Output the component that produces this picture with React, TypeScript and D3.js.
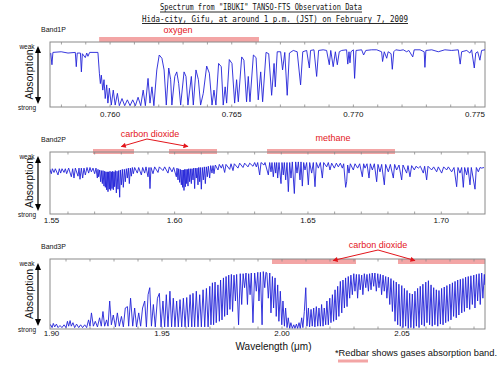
import React from "react";
import * as d3 from "d3";

const W = 500;
const H = 369;

// ---------- data (wavelength in µm, relative signal: 1 = weak absorption, 0 = strong) ----------
const band1Domain: [number, number] = [0.75753, 0.77541];
const band1Labels = [0.76, 0.765, 0.77, 0.775];
const band1Points: [number, number][] = [
  [0.75756,0.83],[0.75761,0.65],[0.75765,0.84],[0.75799,0.85],[0.75827,0.83],[0.75857,0.84],[0.75861,0.62],[0.75865,0.83],
  [0.75878,0.83],[0.75882,0.54],[0.75886,0.82],[0.75898,0.76],[0.75904,0.83],[0.75909,0.78],[0.75916,0.84],[0.7595,0.84],
  [0.75956,0.52],[0.7596,0.36],[0.75964,0.49],[0.7597,0.26],[0.75975,0.42],[0.7598,0.13],[0.75986,0.34],[0.75991,0.06],
  [0.75997,0.29],[0.76005,0.03],[0.76013,0.26],[0.76021,0.03],[0.7603,0.21],[0.76038,0.02],[0.76049,0.13],[0.7606,0.02],
  [0.76071,0.11],[0.76082,0.02],[0.76093,0.11],[0.76104,0.02],[0.76115,0.15],[0.76126,0.02],[0.76136,0.26],[0.76145,0.02],
  [0.76156,0.44],[0.76164,0.06],[0.76172,0.31],[0.7618,0.02],[0.76192,0.57],[0.76202,0.8],[0.76213,0.75],[0.76222,0.57],
  [0.76231,0.03],[0.76241,0.6],[0.76249,0.42],[0.76254,0.03],[0.76266,0.47],[0.76274,0.54],[0.76282,0.36],[0.7629,0.03],
  [0.76304,0.54],[0.76312,0.47],[0.7632,0.03],[0.76334,0.47],[0.76342,0.03],[0.76353,0.57],[0.76363,0.42],[0.76372,0.03],
  [0.76383,0.21],[0.76397,0.63],[0.76408,0.52],[0.76419,0.03],[0.76427,0.26],[0.76435,0.03],[0.76446,0.67],[0.76457,0.62],
  [0.76465,0.03],[0.76473,0.31],[0.76479,0.06],[0.7649,0.73],[0.76501,0.67],[0.76512,0.06],[0.7652,0.42],[0.76527,0.08],
  [0.76541,0.77],[0.7655,0.72],[0.76561,0.08],[0.76568,0.47],[0.76575,0.08],[0.76589,0.8],[0.766,0.76],[0.76609,0.11],
  [0.76619,0.54],[0.76627,0.08],[0.76641,0.84],[0.76652,0.82],[0.76664,0.18],[0.76674,0.67],[0.76679,0.31],[0.76687,0.85],
  [0.76701,0.85],[0.76709,0.57],[0.76718,0.84],[0.76728,0.18],[0.76737,0.83],[0.76753,0.87],[0.76769,0.85],[0.76783,0.34],
  [0.76792,0.85],[0.76808,0.87],[0.76819,0.6],[0.76824,0.87],[0.76838,0.88],[0.76849,0.47],[0.76857,0.87],[0.76876,0.88],
  [0.7689,0.87],[0.76901,0.65],[0.76907,0.87],[0.76917,0.62],[0.76926,0.85],[0.76934,0.65],[0.76942,0.85],[0.76952,0.87],
  [0.76972,0.88],[0.76977,0.66],[0.76982,0.85],[0.76986,0.68],[0.7699,0.85],[0.77,0.88],[0.77005,0.44],[0.77011,0.87],
  [0.77034,0.88],[0.77042,0.8],[0.77051,0.87],[0.77075,0.88],[0.77096,0.88],[0.77116,0.85],[0.7712,0.7],[0.77127,0.85],
  [0.77137,0.75],[0.77143,0.85],[0.77155,0.82],[0.7716,0.58],[0.77166,0.85],[0.77174,0.88],[0.77192,0.87],[0.77205,0.88],
  [0.77219,0.85],[0.77228,0.87],[0.77244,0.77],[0.7725,0.88],[0.77274,0.88],[0.77291,0.85],[0.77294,0.61],[0.77298,0.87],
  [0.77322,0.88],[0.77349,0.85],[0.77376,0.88],[0.77404,0.87],[0.77431,0.88],[0.77439,0.66],[0.77445,0.85],[0.77466,0.87],
  [0.77479,0.83],[0.77486,0.88],[0.77497,0.6],[0.77503,0.83],[0.77511,0.85],[0.7752,0.72],[0.77527,0.87],[0.77541,0.88],
];

const band2Domain: [number, number] = [1.55326, 1.71639];
const band2Labels = [1.55, 1.6, 1.65, 1.7];
const band2Points: [number, number][] = [
  [1.55313,0.73],[1.55376,0.65],[1.55414,0.73],[1.55476,0.67],[1.55526,0.73],[1.55626,0.63],[1.55676,0.73],[1.55726,0.66],
  [1.55776,0.73],[1.55851,0.67],[1.55901,0.73],[1.55951,0.65],[1.56026,0.74],[1.56126,0.6],[1.56176,0.73],[1.56226,0.58],
  [1.56276,0.74],[1.56376,0.61],[1.56414,0.74],[1.56451,0.56],[1.56501,0.74],[1.56551,0.58],[1.56601,0.74],[1.56651,0.63],
  [1.56714,0.75],[1.56776,0.66],[1.56826,0.75],[1.56876,0.68],[1.56939,0.74],[1.57001,0.65],[1.57051,0.74],[1.57101,0.58],
  [1.57126,0.72],[1.57151,0.6],[1.57189,0.71],[1.57226,0.52],[1.57251,0.7],[1.57289,0.49],[1.57314,0.7],[1.57351,0.45],
  [1.57376,0.69],[1.57401,0.43],[1.57426,0.68],[1.57451,0.39],[1.57476,0.68],[1.57501,0.36],[1.57526,0.68],[1.57551,0.4],
  [1.57576,0.69],[1.57601,0.38],[1.57626,0.68],[1.57651,0.41],[1.57676,0.69],[1.57701,0.39],[1.57726,0.68],[1.57751,0.44],
  [1.57776,0.7],[1.57814,0.34],[1.57839,0.69],[1.57876,0.4],[1.57901,0.7],[1.57939,0.27],[1.57964,0.71],[1.58001,0.47],
  [1.58039,0.72],[1.58076,0.43],[1.58114,0.72],[1.58151,0.52],[1.58189,0.73],[1.58226,0.58],[1.58264,0.74],[1.58301,0.49],
  [1.58339,0.74],[1.58376,0.61],[1.58414,0.75],[1.58451,0.65],[1.58501,0.75],[1.58601,0.66],[1.58651,0.75],[1.58751,0.63],
  [1.58801,0.75],[1.58876,0.66],[1.58926,0.76],[1.59001,0.6],[1.59039,0.75],[1.59076,0.41],[1.59114,0.75],[1.59189,0.65],
  [1.59251,0.76],[1.59376,0.67],[1.59426,0.76],[1.59564,0.7],[1.59626,0.76],[1.59751,0.66],[1.59801,0.76],[1.59901,0.68],
  [1.59964,0.75],[1.60064,0.6],[1.60089,0.74],[1.60126,0.55],[1.60151,0.73],[1.60189,0.51],[1.60214,0.72],[1.60251,0.47],
  [1.60276,0.71],[1.60301,0.43],[1.60326,0.71],[1.60351,0.38],[1.60376,0.72],[1.60401,0.44],[1.60426,0.72],[1.60451,0.49],
  [1.60476,0.72],[1.60501,0.45],[1.60526,0.73],[1.60564,0.52],[1.60589,0.73],[1.60626,0.49],[1.60651,0.73],[1.60689,0.55],
  [1.60714,0.74],[1.60751,0.41],[1.60776,0.74],[1.60814,0.58],[1.60839,0.74],[1.60876,0.47],[1.60901,0.75],[1.60939,0.52],
  [1.60964,0.75],[1.61001,0.4],[1.61039,0.75],[1.61076,0.55],[1.61114,0.76],[1.61151,0.49],[1.61189,0.76],[1.61226,0.6],
  [1.61264,0.77],[1.61314,0.58],[1.61351,0.78],[1.61401,0.66],[1.61439,0.78],[1.61476,0.65],[1.61526,0.79],[1.61626,0.71],
  [1.61676,0.8],[1.61751,0.74],[1.61801,0.8],[1.61876,0.67],[1.61926,0.8],[1.62064,0.72],[1.62114,0.81],[1.62189,0.7],
  [1.62239,0.81],[1.62376,0.74],[1.62439,0.82],[1.62564,0.75],[1.62626,0.82],[1.62751,0.76],[1.62814,0.82],[1.62939,0.77],
  [1.63001,0.83],[1.63064,0.76],[1.63114,0.83],[1.63189,0.63],[1.63239,0.83],[1.63351,0.79],[1.63389,0.83],[1.63514,0.63],
  [1.63564,0.83],[1.63614,0.68],[1.63651,0.83],[1.63701,0.6],[1.63751,0.83],[1.63789,0.66],[1.63826,0.83],[1.63864,0.58],
  [1.63914,0.83],[1.63989,0.49],[1.64026,0.83],[1.64076,0.63],[1.64114,0.83],[1.64164,0.55],[1.64214,0.83],[1.64264,0.36],
  [1.64314,0.83],[1.64364,0.58],[1.64414,0.84],[1.64489,0.33],[1.64539,0.84],[1.64589,0.66],[1.64639,0.84],[1.64701,0.55],
  [1.64739,0.84],[1.64789,0.45],[1.64839,0.83],[1.64889,0.71],[1.64951,0.83],[1.65014,0.47],[1.65064,0.83],[1.65139,0.66],
  [1.65201,0.83],[1.65264,0.44],[1.65314,0.83],[1.65389,0.74],[1.65464,0.83],[1.65539,0.58],[1.65589,0.83],[1.65701,0.76],
  [1.65764,0.83],[1.65826,0.71],[1.65889,0.82],[1.65989,0.74],[1.66064,0.82],[1.66139,0.76],[1.66214,0.82],[1.66289,0.74],
  [1.66339,0.81],[1.66389,0.55],[1.66414,0.43],[1.66451,0.52],[1.66489,0.79],[1.66539,0.66],[1.66589,0.81],[1.66701,0.71],
  [1.66764,0.81],[1.66864,0.74],[1.66939,0.81],[1.67039,0.6],[1.67089,0.81],[1.67139,0.74],[1.67214,0.81],[1.67289,0.58],
  [1.67339,0.81],[1.67414,0.71],[1.67489,0.81],[1.67576,0.52],[1.67626,0.8],[1.67701,0.68],[1.67764,0.8],[1.67864,0.47],
  [1.67914,0.8],[1.68014,0.68],[1.68089,0.8],[1.68201,0.58],[1.68251,0.8],[1.68326,0.71],[1.68414,0.79],[1.68514,0.55],
  [1.68564,0.79],[1.68701,0.66],[1.68751,0.78],[1.68826,0.6],[1.68889,0.78],[1.68989,0.71],[1.69051,0.77],[1.69139,0.74],
  [1.69214,0.77],[1.69326,0.66],[1.69376,0.77],[1.69451,0.55],[1.69501,0.77],[1.69639,0.71],[1.69714,0.76],[1.69826,0.68],
  [1.69889,0.76],[1.70014,0.66],[1.70089,0.76],[1.70201,0.71],[1.70264,0.76],[1.70389,0.68],[1.70476,0.75],[1.70576,0.44],
  [1.70626,0.75],[1.70701,0.66],[1.70764,0.75],[1.70826,0.43],[1.70876,0.75],[1.70951,0.63],[1.71001,0.75],[1.71076,0.47],
  [1.71126,0.75],[1.71264,0.4],[1.71314,0.75],[1.71389,0.68],[1.71451,0.75],[1.71514,0.74],[1.71601,0.75],
];

const band3Domain: [number, number] = [1.90333, 2.08458];
const band3Labels = [1.9, 1.95, 2.0, 2.05];
const band3Points: [number, number][] = [
  [1.9028,0.04],[1.9036,0.06],[1.9042,0.02],[1.9047,0.08],[1.9053,0.03],[1.906,0.07],[1.9067,0.02],[1.9075,0.05],
  [1.9083,0.02],[1.9092,0.06],[1.91,0.02],[1.9106,0.11],[1.9111,0.04],[1.9117,0.12],[1.9122,0.04],[1.9129,0.09],
  [1.9136,0.02],[1.9144,0.07],[1.9153,0.02],[1.9161,0.06],[1.9169,0.02],[1.9178,0.06],[1.9186,0.02],[1.9194,0.13],
  [1.92,0.04],[1.9206,0.23],[1.9214,0.04],[1.9222,0.11],[1.9231,0.03],[1.924,0.16],[1.9247,0.04],[1.9254,0.25],
  [1.9261,0.04],[1.9269,0.13],[1.9275,0.04],[1.9282,0.4],[1.9289,0.06],[1.9297,0.2],[1.9306,0.03],[1.9314,0.23],
  [1.9322,0.04],[1.9331,0.18],[1.9339,0.03],[1.9347,0.3],[1.9356,0.32],[1.9361,0.04],[1.9369,0.44],[1.9378,0.04],
  [1.9386,0.3],[1.9394,0.03],[1.9403,0.23],[1.9411,0.04],[1.9419,0.3],[1.9428,0.4],[1.9435,0.03],[1.9442,0.49],
  [1.9449,0.59],[1.9456,0.04],[1.9464,0.35],[1.9472,0.03],[1.9481,0.44],[1.9489,0.51],[1.9496,0.03],[1.9504,0.4],
  [1.9511,0.03],[1.9518,0.49],[1.9525,0.03],[1.9533,0.54],[1.954,0.03],[1.9547,0.44],[1.9554,0.03],[1.9561,0.4],
  [1.9568,0.03],[1.9575,0.42],[1.9582,0.03],[1.9589,0.44],[1.9596,0.03],[1.9603,0.45],[1.961,0.03],[1.9617,0.49],
  [1.9624,0.03],[1.9629,0.51],[1.9636,0.03],[1.9643,0.54],[1.965,0.03],[1.9657,0.49],[1.9664,0.03],[1.9671,0.56],
  [1.9678,0.03],[1.9685,0.58],[1.9692,0.03],[1.9699,0.61],[1.9704,0.06],[1.971,0.66],[1.9715,0.06],[1.9721,0.67],
  [1.9726,0.09],[1.9733,0.63],[1.9739,0.11],[1.9744,0.7],[1.975,0.13],[1.9756,0.73],[1.9761,0.18],[1.9767,0.75],
  [1.9772,0.2],[1.9778,0.77],[1.9783,0.28],[1.9789,0.78],[1.9794,0.25],[1.98,0.77],[1.9806,0.4],[1.9811,0.78],
  [1.9819,0.06],[1.9826,0.79],[1.9832,0.35],[1.9838,0.79],[1.9844,0.59],[1.985,0.8],[1.9856,0.35],[1.9861,0.79],
  [1.9867,0.49],[1.9872,0.8],[1.9879,0.09],[1.9886,0.8],[1.9893,0.54],[1.9899,0.81],[1.9904,0.4],[1.991,0.81],
  [1.9917,0.06],[1.9922,0.82],[1.9928,0.59],[1.9933,0.81],[1.9937,0.8],[1.9943,0.44],[1.9949,0.8],[1.9954,0.23],
  [1.996,0.75],[1.9965,0.3],[1.9971,0.73],[1.9976,0.18],[1.9982,0.63],[1.9987,0.11],[1.9993,0.54],[1.9999,0.06],
  [2.0004,0.4],[2.001,0.04],[2.0015,0.3],[2.0021,0.02],[2.0026,0.16],[2.0032,0.01],[2.0037,0.09],[2.0043,0.01],
  [2.0049,0.06],[2.0054,0.01],[2.006,0.07],[2.0065,0.01],[2.0071,0.09],[2.0076,0.01],[2.0082,0.16],[2.0087,0.02],
  [2.0093,0.25],[2.0099,0.59],[2.0104,0.04],[2.011,0.3],[2.0115,0.03],[2.0121,0.28],[2.0126,0.04],[2.0132,0.3],
  [2.0137,0.03],[2.0143,0.32],[2.0149,0.04],[2.0154,0.3],[2.016,0.04],[2.0165,0.35],[2.0171,0.04],[2.0176,0.3],
  [2.0182,0.06],[2.0187,0.4],[2.0193,0.06],[2.0199,0.44],[2.0204,0.09],[2.021,0.49],[2.0215,0.11],[2.0221,0.56],
  [2.0226,0.13],[2.0232,0.61],[2.0237,0.18],[2.0243,0.68],[2.0249,0.23],[2.0254,0.7],[2.026,0.3],[2.0265,0.73],
  [2.0271,0.32],[2.0276,0.75],[2.0282,0.44],[2.0287,0.77],[2.0293,0.49],[2.0299,0.79],[2.0304,0.54],[2.031,0.78],
  [2.0315,0.44],[2.0321,0.78],[2.0326,0.56],[2.0332,0.77],[2.0337,0.49],[2.0343,0.79],[2.0349,0.59],[2.0354,0.78],
  [2.036,0.54],[2.0365,0.79],[2.0371,0.56],[2.0376,0.8],[2.0382,0.61],[2.0387,0.8],[2.0393,0.54],[2.0399,0.79],
  [2.0404,0.59],[2.041,0.78],[2.0415,0.49],[2.0421,0.77],[2.0426,0.54],[2.0432,0.75],[2.0437,0.44],[2.0443,0.74],
  [2.0449,0.35],[2.0454,0.72],[2.046,0.25],[2.0465,0.69],[2.0471,0.11],[2.0476,0.67],[2.0482,0.06],[2.0487,0.64],
  [2.0493,0.04],[2.0499,0.62],[2.0504,0.02],[2.051,0.58],[2.0515,0.04],[2.0521,0.55],[2.0526,0.01],[2.0532,0.51],
  [2.0537,0.02],[2.0543,0.5],[2.0549,0.01],[2.0554,0.54],[2.056,0.04],[2.0565,0.58],[2.0571,0.02],[2.0576,0.61],
  [2.0582,0.06],[2.0587,0.64],[2.0593,0.04],[2.0599,0.67],[2.0604,0.09],[2.061,0.69],[2.0615,0.06],[2.0621,0.63],
  [2.0626,0.04],[2.0632,0.59],[2.0637,0.06],[2.0643,0.56],[2.0649,0.04],[2.0654,0.55],[2.066,0.07],[2.0665,0.58],
  [2.0671,0.06],[2.0676,0.6],[2.0682,0.09],[2.0687,0.62],[2.0693,0.11],[2.0699,0.64],[2.0704,0.13],[2.071,0.66],
  [2.0715,0.18],[2.0721,0.68],[2.0726,0.16],[2.0732,0.7],[2.0737,0.2],[2.0743,0.71],[2.0749,0.23],[2.0754,0.72],
  [2.076,0.25],[2.0765,0.74],[2.0771,0.3],[2.0776,0.75],[2.0782,0.28],[2.0787,0.76],[2.0793,0.35],[2.0799,0.77],
  [2.0804,0.3],[2.081,0.78],[2.0815,0.4],[2.0821,0.79],[2.0826,0.35],[2.0832,0.8],[2.0837,0.44],[2.0843,0.78],
  [2.0845,0.63],
];

// gas absorption bands (wavelength ranges of the red bars)
const band1Bars: [number, number][] = [[0.75955, 0.76612]];
const band2Bars: [number, number][] = [[1.56939, 1.58476], [1.59789, 1.61589], [1.63464, 1.68264]];
const band3Bars: [number, number][] = [[1.99583, 2.03083], [2.04833, 2.0846]];

// gas labels: text, wavelength centre
const band1Gases = [{ text: "oxygen", wl: 0.76279 }];
const band2Gases = [{ text: "carbon dioxide", wl: 1.59076 }, { text: "methane", wl: 1.65939 }];
const band3Gases = [{ text: "carbon dioxide", wl: 2.04 }];

// arrows from a gas label to its bars: [from wl, to wl]
const band2Arrows: [number, number][] = [[1.58964, 1.58], [1.58964, 1.60501]];
const band3Arrows: [number, number][] = [[2.04, 2.0213], [2.04, 2.0554]];

const titleLines = [
  'Spectrum from "IBUKI" TANSO-FTS Observation Data',
  "Hida-city, Gifu, at around 1 p.m. (JST) on February 7, 2009",
];

// ---------- layout ----------
const LEFT = 50;
const RIGHT = 485;
const RED = "#e3151b";
const PINK = "#f3a5a5";
const BLUE = "#2121d8";
const FONT = "'Liberation Sans', Arial, sans-serif";

type PanelCfg = {
  name: string;
  top: number;
  bottom: number;
  domain: [number, number];
  labels: number[];
  fmt: string;
  minorCount: number;
  points: [number, number][];
  bars: [number, number][];
  barTop: number;
  gases: { text: string; wl: number }[];
  gasDy: number[];
  arrows: [number, number][];
  arrowFromDy: number;
  arrowToDy: number;
  labelDy: number;
};

const panels: PanelCfg[] = [
  {
    name: "Band1P", top: 42, bottom: 107, domain: band1Domain, labels: band1Labels, fmt: ".3f",
    minorCount: 18, points: band1Points, bars: band1Bars, barTop: -5, gases: band1Gases, gasDy: [-9],
    arrows: [], arrowFromDy: 0, arrowToDy: 0, labelDy: 9.5,
  },
  {
    name: "Band2P", top: 152, bottom: 214, domain: band2Domain, labels: band2Labels, fmt: ".2f",
    minorCount: 16, points: band2Points, bars: band2Bars, barTop: -3, gases: band2Gases, gasDy: [-15, -11],
    arrows: band2Arrows, arrowFromDy: -13, arrowToDy: -5.5, labelDy: 8.5,
  },
  {
    name: "Band3P", top: 259, bottom: 329, domain: band3Domain, labels: band3Labels, fmt: ".2f",
    minorCount: 18, points: band3Points, bars: band3Bars, barTop: 0, gases: band3Gases, gasDy: [-11],
    arrows: band3Arrows, arrowFromDy: -9, arrowToDy: 1.5, labelDy: 6.5,
  },
];

function Panel({ p, idx }: { p: PanelCfg; idx: number }) {
  const x = d3.scaleLinear().domain(p.domain).range([LEFT, RIGHT]);
  const y = d3.scaleLinear().domain([0, 1]).range([p.bottom, p.top]);
  const line = d3
    .line<[number, number]>()
    .x((d) => x(d[0]))
    .y((d) => y(d[1]));
  const fmt = d3.format(p.fmt);
  const minor = x.ticks(p.minorCount);
  const clipId = `clip${idx}`;
  const mid = (p.top + p.bottom) / 2;
  const ax = 38;
  return (
    <g>
      <defs>
        <clipPath id={clipId}>
          <rect x={LEFT} y={p.top} width={RIGHT - LEFT} height={p.bottom - p.top} />
        </clipPath>
      </defs>
      {/* red bars */}
      {p.bars.map((b, i) => (
        <rect key={i} x={x(b[0])} y={p.top + p.barTop} width={x(b[1]) - x(b[0])} height={5} fill={PINK} />
      ))}
      {/* box */}
      <rect x={LEFT} y={p.top} width={RIGHT - LEFT} height={p.bottom - p.top} fill="none" stroke="#8a8a8a" strokeWidth={1} />
      {minor.map((t, i) => (
        <g key={i} stroke="#8a8a8a" strokeWidth={0.8}>
          <line x1={x(t)} x2={x(t)} y1={p.top} y2={p.top + 2.5} />
          <line x1={x(t)} x2={x(t)} y1={p.bottom} y2={p.bottom - 2.5} />
        </g>
      ))}
      {/* spectrum */}
      <path d={line(p.points) || ""} fill="none" stroke={BLUE} strokeWidth={0.9} strokeLinejoin="round" clipPath={`url(#${clipId})`} />
      {/* x tick labels */}
      {p.labels.map((t, i) => (
        <text key={i} x={Math.max(x(t), LEFT + 1.5)} y={p.bottom + p.labelDy} fontSize={8} fontFamily={FONT} textAnchor="middle" fill="#111">
          {fmt(t)}
        </text>
      ))}
      {/* band name */}
      <text x={41} y={p.top - 10} fontSize={7} fontFamily={FONT} fill="#111">{p.name}</text>
      {/* gas labels */}
      {p.gases.map((g, i) => (
        <text key={i} x={x(g.wl)} y={p.top + p.gasDy[i]} fontSize={9} fontFamily={FONT} textAnchor="middle" fill={RED}>
          {g.text}
        </text>
      ))}
      {p.arrows.map((a, i) => (
        <line key={i} x1={x(a[0])} y1={p.top + p.arrowFromDy} x2={x(a[1])} y2={p.top + p.arrowToDy}
          stroke={RED} strokeWidth={1} markerEnd="url(#redHead)" />
      ))}
      {/* y axis annotation */}
      <text x={27} y={p.top + 6.5} fontSize={6.5} fontFamily={FONT} textAnchor="middle" fill="#111">weak</text>
      <text x={27} y={p.bottom + 3} fontSize={6.5} fontFamily={FONT} textAnchor="middle" fill="#111">strong</text>
      <text transform={`translate(33,${mid}) rotate(-90)`} fontSize={10.5} fontFamily={FONT} textAnchor="middle" fill="#111">
        Absorption
      </text>
      <line x1={ax} x2={ax} y1={p.top + 10} y2={p.bottom - 9} stroke="#000" strokeWidth={1.2} />
      <path d={`M${ax},${p.top + 4} L${ax - 3},${p.top + 11} L${ax + 3},${p.top + 11} Z`} fill="#000" />
      <path d={`M${ax},${p.bottom - 3} L${ax - 3},${p.bottom - 10} L${ax + 3},${p.bottom - 10} Z`} fill="#000" />
    </g>
  );
}

export default function App() {
  return (
    <svg width={W} height={H} style={{ position: "absolute", left: 0, top: 0, background: "#fff" }}>
      <defs>
        <marker id="redHead" viewBox="0 0 10 10" refX="9" refY="5" markerWidth="6" markerHeight="5" orient="auto" markerUnits="userSpaceOnUse">
          <path d="M0,0 L10,5 L0,10 Z" fill={RED} />
        </marker>
      </defs>
      <rect x={0} y={0} width={W} height={H} fill="#fff" />
      {/* title */}
      <text x={160} y={10} fontSize={8.5} fontFamily="'DejaVu Sans Mono', monospace" textLength={202} lengthAdjust="spacingAndGlyphs" fill="#111">
        {titleLines[0]}
      </text>
      <line x1={160} x2={362} y1={12} y2={12} stroke="#111" strokeWidth={0.9} />
      <text x={142} y={21.5} fontSize={8.5} fontFamily="'DejaVu Sans Mono', monospace" textLength={266} lengthAdjust="spacingAndGlyphs" fill="#111">
        {titleLines[1]}
      </text>
      <line x1={142} x2={408} y1={23.5} y2={23.5} stroke="#111" strokeWidth={0.9} />
      {panels.map((p, i) => (
        <Panel key={i} p={p} idx={i} />
      ))}
      {/* footer */}
      <text x={273.5} y={350} fontSize={10} fontFamily={FONT} textAnchor="middle" fill="#111">
        Wavelength (μm)
      </text>
      <text x={335} y={356} fontSize={9} fontFamily={FONT} textLength={162} lengthAdjust="spacingAndGlyphs" fill="#111">
        *Redbar shows gases absorption band.
      </text>
      <rect x={338} y={359.5} width={30} height={3} fill={PINK} />
    </svg>
  );
}
